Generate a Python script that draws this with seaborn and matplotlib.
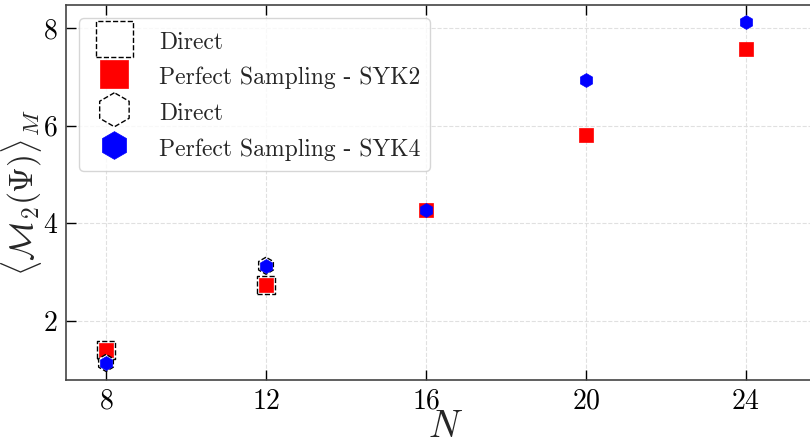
import matplotlib
matplotlib.use("Agg")
import matplotlib.pyplot as plt
import seaborn as sns
import pandas as pd

N_all = [8, 12, 16, 20, 24]
N_direct = [8, 12]
syk2_direct = [1.41, 2.73]
syk2_perfect = [1.41, 2.73, 4.28, 5.80, 7.57]
syk4_direct = [1.14, 3.13]
syk4_perfect = [1.14, 3.13, 4.28, 6.94, 8.12]

xticks = [8, 12, 16, 20, 24]
yticks = [2, 4, 6, 8]

sns.set_style("ticks")
plt.rcParams["font.family"] = "serif"
plt.rcParams["font.serif"] = ["cmr10", "DejaVu Serif"]
plt.rcParams["mathtext.fontset"] = "cm"
plt.rcParams["axes.formatter.use_mathtext"] = True

fig = plt.figure(figsize=(8.10, 4.44), dpi=100)
ax = fig.add_axes([66 / 810, 64 / 444, 760 / 810, 375 / 444])

df2d = pd.DataFrame({"N": N_direct, "v": syk2_direct})
df2p = pd.DataFrame({"N": N_all, "v": syk2_perfect})
df4d = pd.DataFrame({"N": N_direct, "v": syk4_direct})
df4p = pd.DataFrame({"N": N_all, "v": syk4_perfect})

sns.scatterplot(data=df2d, x="N", y="v", ax=ax, marker="s", s=170,
                facecolor="white", edgecolor="black", linewidth=1.0,
                linestyle="--", label="Direct", zorder=3)
sns.scatterplot(data=df2p, x="N", y="v", ax=ax, marker="s", s=100,
                color="red", edgecolor="red", linewidth=0.5,
                label="Perfect Sampling - SYK2", zorder=4)
sns.scatterplot(data=df4d, x="N", y="v", ax=ax, marker="h", s=150,
                facecolor="white", edgecolor="black", linewidth=1.0,
                linestyle="--", label="Direct", zorder=5)
sns.scatterplot(data=df4p, x="N", y="v", ax=ax, marker="h", s=100,
                color="blue", edgecolor="blue", linewidth=0.5,
                label="Perfect Sampling - SYK4", zorder=6)

ax.set_xlim(7, 26)
ax.set_ylim(0.79, 8.47)
ax.set_xticks(xticks)
ax.set_yticks(yticks)
ax.grid(True, linestyle="--", color="#dddddd", linewidth=0.8, alpha=0.9)
ax.tick_params(direction="in", top=True, right=False, length=7, width=1.0,
               labelsize=20, colors="black", pad=6)
for sp in ["left", "bottom", "top"]:
    ax.spines[sp].set_color("#444444")
    ax.spines[sp].set_linewidth(1.2)
ax.spines["right"].set_visible(False)

ax.set_xlabel(r"$N$", fontsize=27, labelpad=-3)
ax.set_ylabel(r"$\langle \mathcal{M}_2(\Psi) \rangle_M$", fontsize=24, labelpad=-1)

leg = ax.legend(loc="upper left", fontsize=17, markerscale=2.0, frameon=True,
                borderaxespad=0.55, handletextpad=0.8, handlelength=2.2,
                handleheight=1.4, labelspacing=0.35, borderpad=0.4,
                bbox_to_anchor=(0.0, 1.0))
leg.get_frame().set_edgecolor("#cccccc")

fig.savefig("out.png", dpi=100)
